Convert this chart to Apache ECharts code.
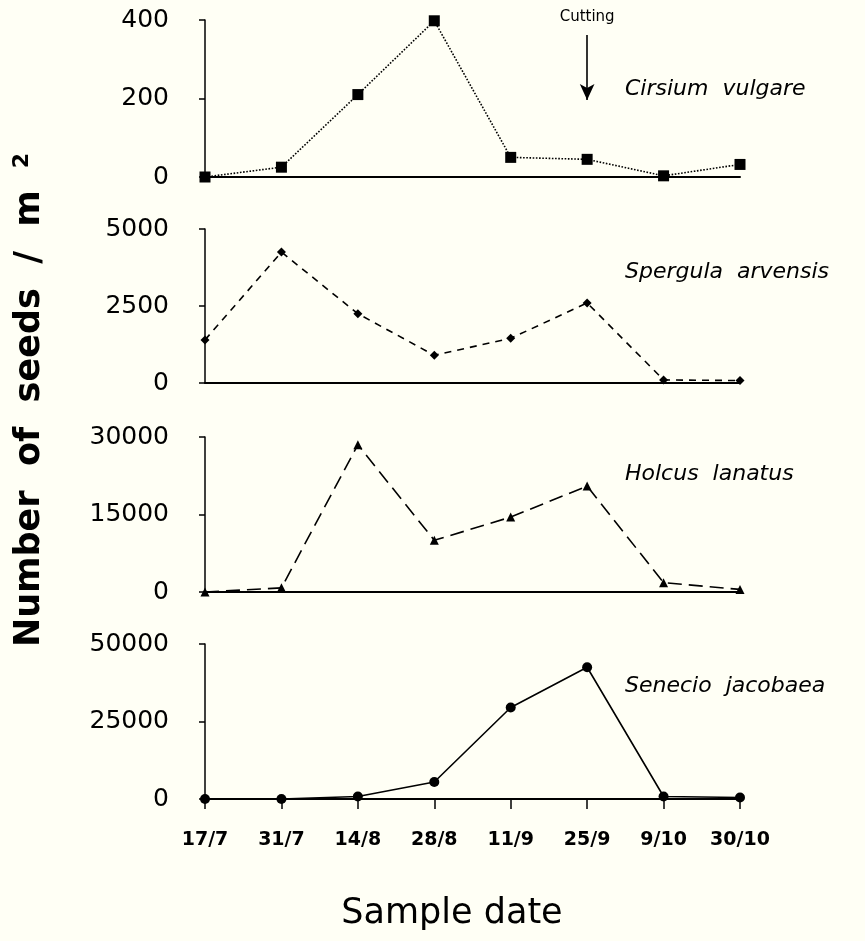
<!DOCTYPE html>
<html><head><meta charset="utf-8">
<script src="https://cdn.jsdelivr.net/npm/echarts@6/dist/echarts.min.js"></script>
<style>html,body{margin:0;padding:0;background:#fffff5}#c{width:865px;height:941px}</style>
</head><body><div id="c"></div>
<script>
const dates = ['17/7','31/7','14/8','28/8','11/9','25/9','9/10','30/10'];
const cirsium = [0,25,210,398,50,45,3,32];
const spergula = [1400,4250,2250,900,1450,2600,100,80];
const holcus = [0,800,28500,10000,14500,20500,1800,500];
const senecio = [0,0,800,5500,29500,42500,800,500];
const speciesNames = ['Cirsium  vulgare','Spergula  arvensis','Holcus  lanatus','Senecio  jacobaea'];
const yMax = [400,5000,30000,50000];
const yStep = [200,2500,15000,25000];
const cutting = {date:'25/9', from:362, to:196, text:'Cutting'};

const seriesData = [cirsium, spergula, holcus, senecio];
const tops = [20,229,437,644];
const heights = [157,154,155,155];
const labelPos = [[625,89],[625,272],[625,474],[625,686]];
const symbols = ['rect','diamond','triangle','circle'];
const symSizes = [11,9,9,10];
const lineTypes = ['dotted',[7,6],[14,7],'solid'];
const tickFont = 'DejaVu Sans';

const chart = echarts.init(document.getElementById('c'), null, {renderer:'canvas'});
const grid=[], xAxis=[], yAxis=[], series=[], graphic=[];
for (let i=0;i<4;i++){
  grid.push({left:205, width:535, top:tops[i], height:heights[i]});
  const last = i===3;
  xAxis.push({type:'category', gridIndex:i, data:dates, boundaryGap:false,
    axisLine:{lineStyle:{color:'#000', width:2}},
    axisTick:{show:last, interval:0, length:10, lineStyle:{color:'#000', width:1.5}},
    axisLabel:{show:last, interval:0, color:'#000', fontFamily:tickFont, fontWeight:'bold', fontSize:19, margin:32},
    splitLine:{show:false}});
  yAxis.push({type:'value', gridIndex:i, min:0, max:yMax[i], interval:yStep[i],
    axisLine:{show:true, lineStyle:{color:'#000', width:1.5}},
    axisTick:{show:true, length:6, lineStyle:{color:'#000', width:1.5}},
    axisLabel:{color:'#000', fontFamily:tickFont, fontSize:25, margin:36,
      formatter:function(v){return String(v);}},
    splitLine:{show:false}});
  const s = {type:'line', xAxisIndex:i, yAxisIndex:i, data:seriesData[i],
    symbol:symbols[i], symbolSize:symSizes[i], showSymbol:true,
    itemStyle:{color:'#000'},
    lineStyle:{color:'#000', width:1.6, type:lineTypes[i]},
    animation:false};
  if (i===0){
    s.markLine = {silent:true, symbol:['none','arrow'], symbolSize:[11,16], animation:false,
      lineStyle:{color:'#000', type:'solid', width:1.6},
      label:{show:true, position:'start', formatter:cutting.text, color:'#000', fontSize:15, fontFamily:'DejaVu Sans', distance:10},
      data:[[{coord:[cutting.date, cutting.from]},{coord:[cutting.date, cutting.to]}]]};
  }
  series.push(s);
  graphic.push({type:'text', x:labelPos[i][0], y:labelPos[i][1],
    style:{text:speciesNames[i], font:'italic 22px "DejaVu Sans"', fill:'#000', verticalAlign:'middle'}});
}
graphic.push({type:'text', x:30, y:400, rotation:Math.PI/2,
  style:{text:'Number  of  seeds  /  m{sup|2}', font:'bold 35px "DejaVu Sans"', fill:'#000',
    align:'center', verticalAlign:'middle',
    rich:{sup:{font:'bold 22px "DejaVu Sans"', fill:'#000', verticalAlign:'top', padding:[0,0,16,22]}}}});
graphic.push({type:'text', x:452, y:914,
  style:{text:'Sample date', font:'35px "DejaVu Sans"', fill:'#000', align:'center', verticalAlign:'middle'}});

chart.setOption({backgroundColor:'#fffff5', animation:false, grid, xAxis, yAxis, series, graphic});
</script></body></html>
